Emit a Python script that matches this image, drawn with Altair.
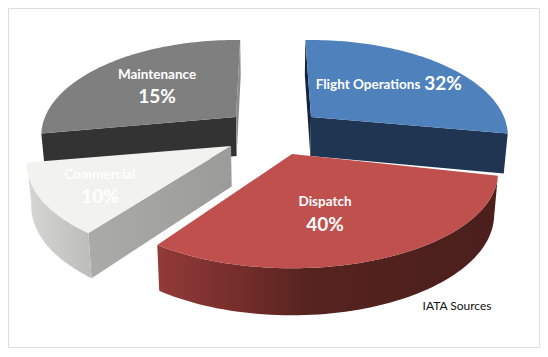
import numpy as np
import pandas as pd
import altair as alt

# Values as printed on the chart
names = ["Flight Operations", "Dispatch", "Commercial", "Maintenance"]
percent_labels = ["32%", "40%", "10%", "15%"]
# Angular span of each drawn slice (degrees)
spans = [102, 111, 43, 101.5]
source_note = "IATA Sources"

# Layout and style
starts = [-2, 103, 217, 260]
apexes = [(311, 117), (292, 154), (231, 146), (236, 117)]
widths = [193, 202, 200, 191]
K, B, CX = 0.195, 92, 273
tops = ["#4f81bd", "#c0504d", "#f2f2ef", "#7f7f7f"]
FONT = "Lato"


def rim(i, n=70):
    th = np.radians(np.linspace(starts[i], starts[i] + spans[i], n))
    c, s = np.cos(th), np.sin(th)
    w = 1 + K * c
    ax, ay = apexes[i]
    return np.column_stack([ax + widths[i] * s / w, ay - B * c / w])


def lower(pts):
    pts = np.atleast_2d(np.array(pts, dtype=float))
    return np.column_stack([
        CX + (pts[:, 0] - CX) * 0.983,
        pts[:, 1] + 39 + (pts[:, 1] - 117) * 8 / 151,
    ])


xs = alt.Scale(domain=[8, 539], range=[0, 531], nice=False, zero=False)
ys = alt.Scale(domain=[347, 8], range=[339, 0], nice=False, zero=False)


def poly(points, fill):
    pts = np.array(points)
    df = pd.DataFrame({"x": pts[:, 0], "y": pts[:, 1], "i": np.arange(len(pts))})
    return alt.Chart(df).mark_line(
        interpolate="linear-closed", fill=fill, stroke=None, strokeWidth=0
    ).encode(
        x=alt.X("x:Q", scale=xs, axis=None),
        y=alt.Y("y:Q", scale=ys, axis=None),
        order="i:Q",
    )


def grad(*stops, horizontal=True):
    return alt.Gradient(
        gradient="linear", x1=0, y1=0, x2=1 if horizontal else 0, y2=0 if horizontal else 1,
        stops=[alt.GradientStop(offset=o, color=c) for o, c in stops],
    )


def face(i):
    return poly(np.vstack([[apexes[i]], rim(i)]), tops[i])


def radial_wall(i, end, fill):
    a = np.array([apexes[i]], dtype=float)
    e = rim(i)[end][None, :]
    return poly(np.vstack([a, e, lower(e), lower(a)]), fill)


def outer_wall(i, fill):
    r = rim(i)
    return poly(np.vstack([r, lower(r)[::-1]]), fill)


layers = [
    # Maintenance
    radial_wall(3, 0, "#333333"),
    radial_wall(3, -1, "#8c8c8c"),
    face(3),
    # Flight Operations
    radial_wall(0, -1, "#1f3552"),
    radial_wall(0, 0, "#14263e"),
    face(0),
    # Commercial
    radial_wall(2, 0, grad((0, "#abaca9"), (1, "#9b9b99"))),
    outer_wall(2, grad((0, "#d6d6d3"), (1, "#bcbcba"))),
    face(2),
    # Dispatch
    outer_wall(1, grad((0, "#923a38"), (0.2, "#7a302d"), (0.45, "#56231f"), (1, "#4a1f1c"))),
    face(1),
]


def label(texts, xpos, ypos, size, color="white", weight="bold", align="center"):
    df = pd.DataFrame({"t": texts, "x": xpos, "y": ypos})
    return alt.Chart(df).mark_text(
        font=FONT, fontSize=size, fontWeight=weight, color=color, align=align, baseline="middle"
    ).encode(
        x=alt.X("x:Q", scale=xs, axis=None),
        y=alt.Y("y:Q", scale=ys, axis=None),
        text="t:N",
    )


layers += [
    label([names[0]], [368], [85], 13.5),
    label([percent_labels[0]], [443], [84], 19),
    label([names[1]], [325], [202], 13.5),
    label([percent_labels[1]], [325], [225], 19),
    label([names[2]], [100], [175], 13.5),
    label([percent_labels[2]], [100], [197], 19),
    label([names[3]], [157], [75], 13.5),
    label([percent_labels[3]], [157], [97], 19),
    label([source_note], [457], [306], 12, color="#111111", weight="normal"),
]

chart = alt.layer(*layers).properties(
    width=531,
    height=339,
    padding={"left": 0, "top": 0, "right": 1, "bottom": 2},
    autosize=alt.AutoSizeParams(type="none"),
).configure_view(stroke="#7f7f7f", strokeWidth=3).configure(background="white")

chart.save("out.html", embed_options={"renderer": "svg", "actions": False})
